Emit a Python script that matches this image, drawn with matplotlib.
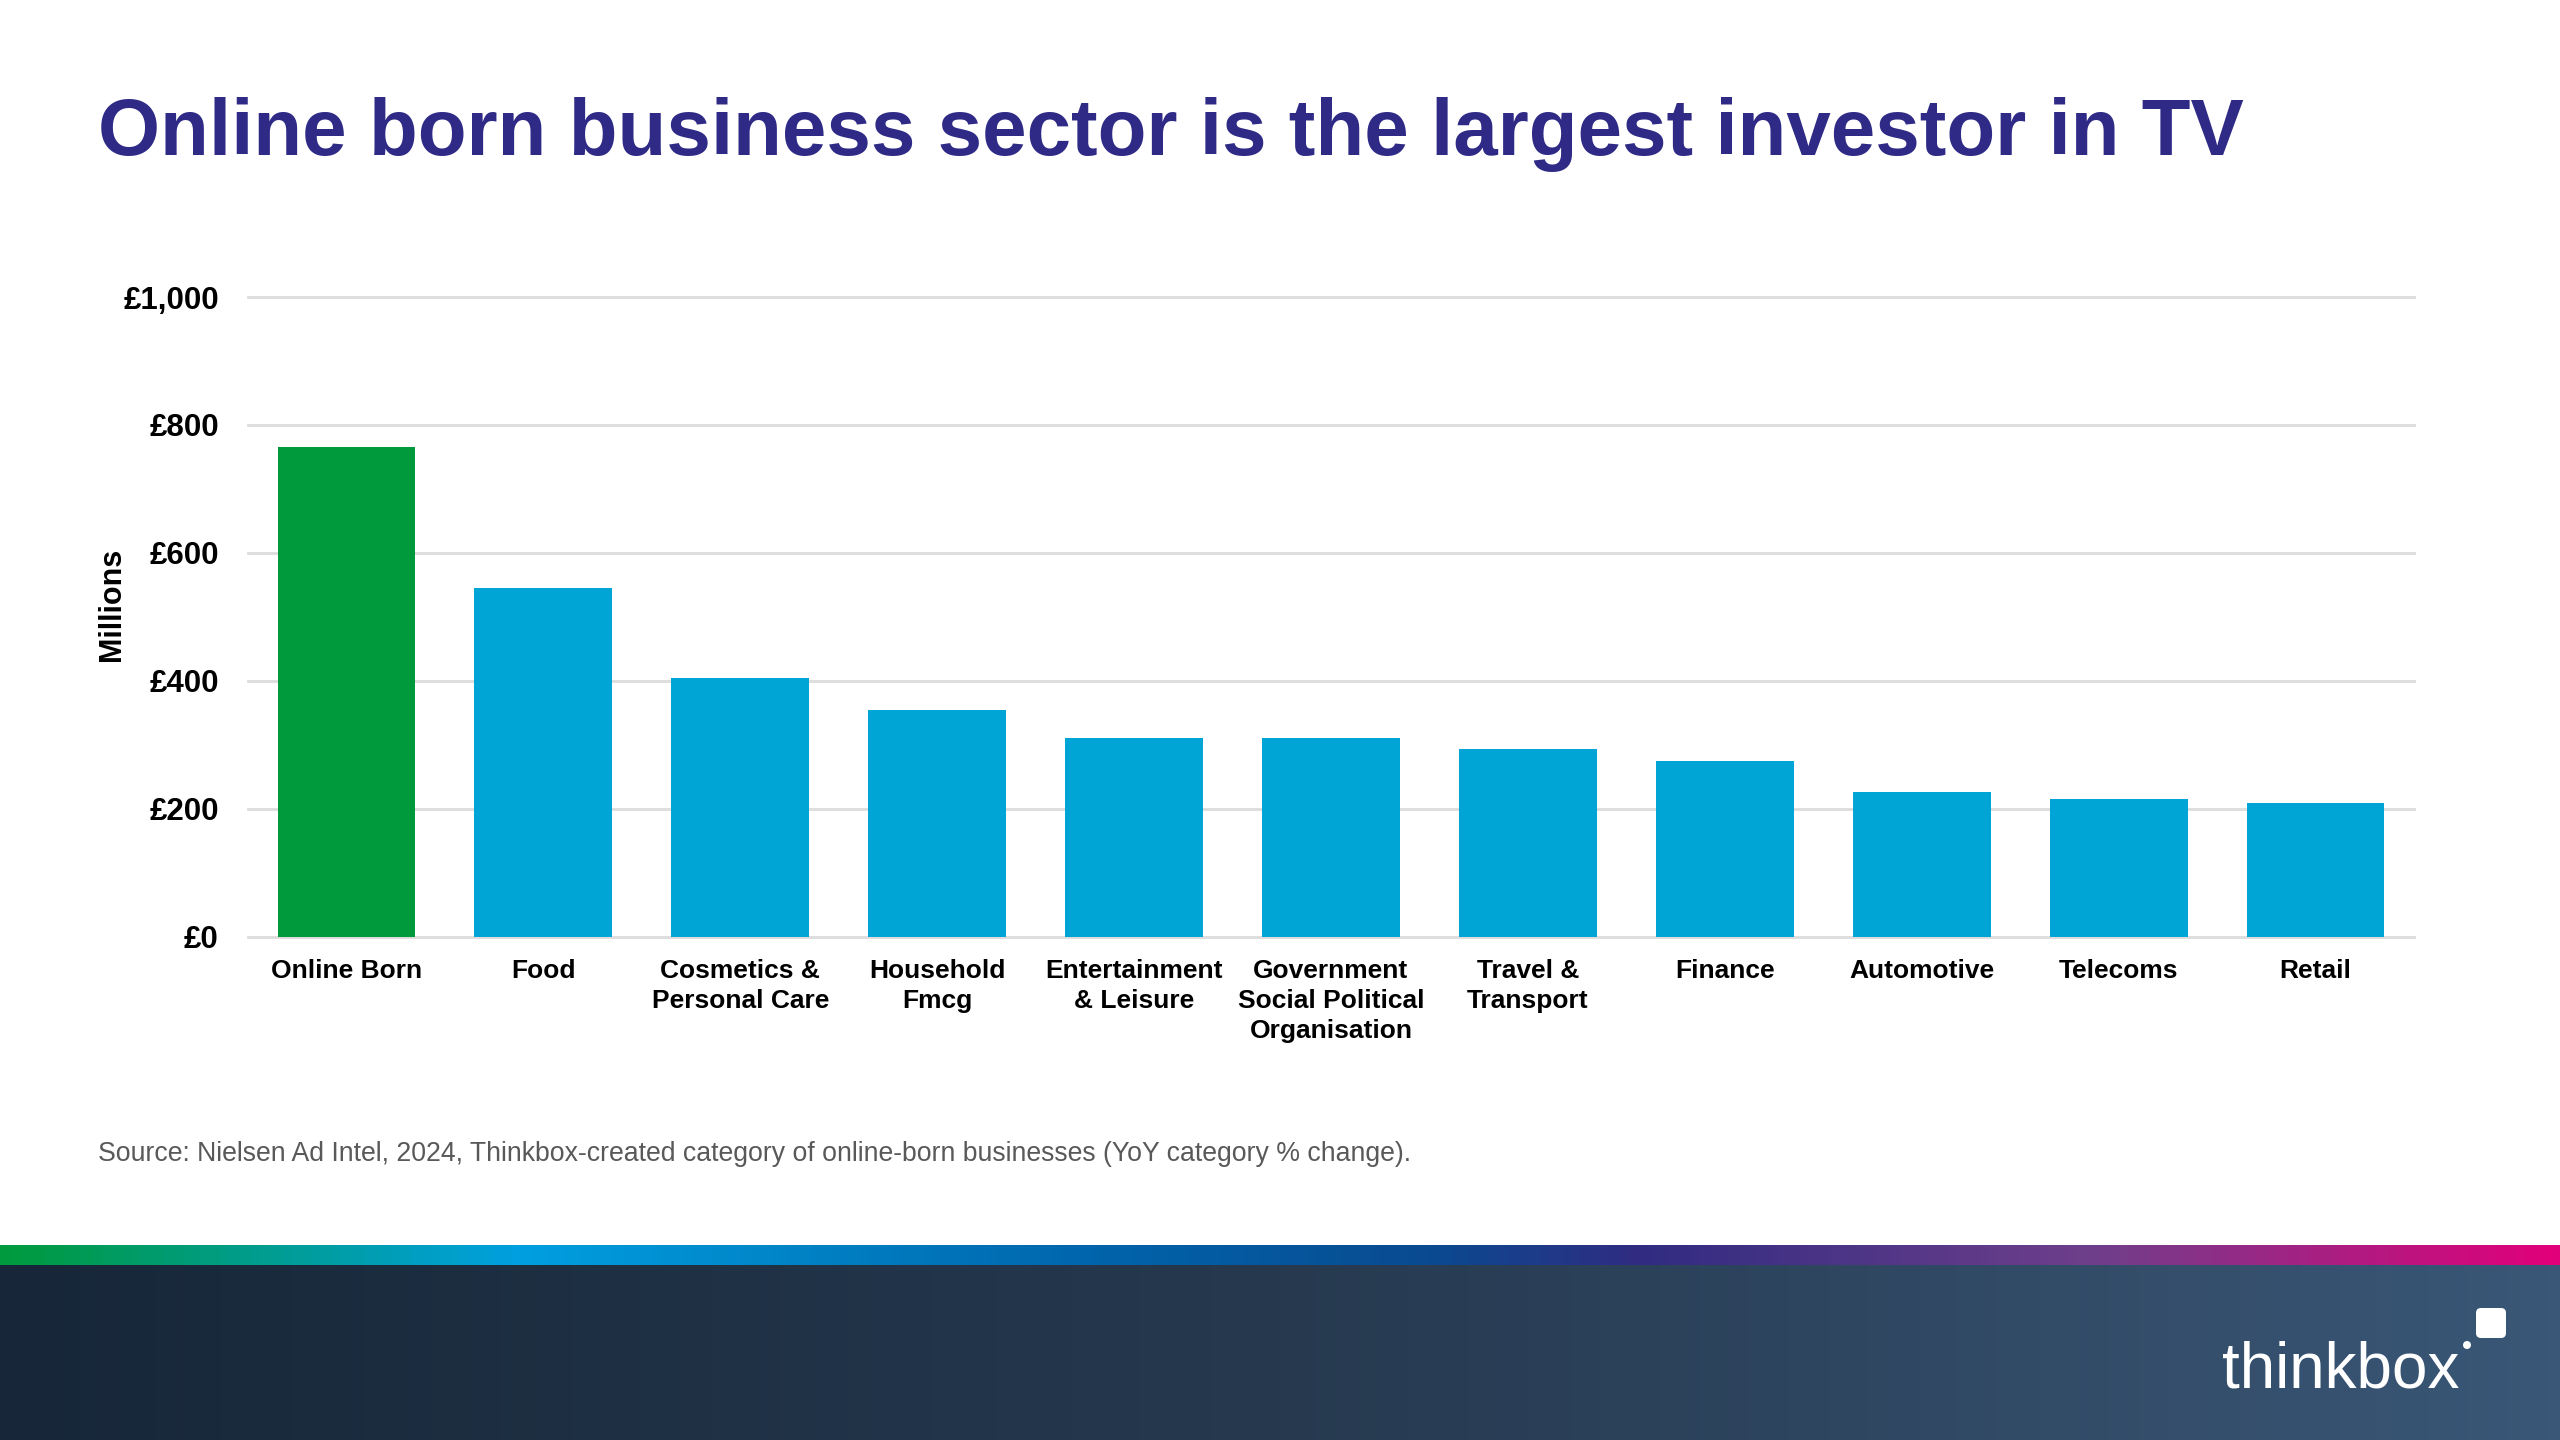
import matplotlib
matplotlib.use("Agg")
import matplotlib.pyplot as plt
import numpy as np
from matplotlib.colors import LinearSegmentedColormap
from matplotlib.patches import FancyBboxPatch, Circle

plt.rcParams["font.family"] = ["Liberation Sans", "DejaVu Sans"]

# --- Data (GBP millions) ---
categories = [
    "Online Born", "Food", "Cosmetics &\nPersonal Care", "Household\nFmcg",
    "Entertainment\n& Leisure", "Government\nSocial Political\nOrganisation",
    "Travel &\nTransport", "Finance", "Automotive", "Telecoms", "Retail",
]
spend = [765, 545, 404, 355, 311, 311, 294, 275, 227, 215, 209]
y_ticks = [0, 200, 400, 600, 800, 1000]

TITLE = "Online born business sector is the largest investor in TV"
SOURCE = ("Source: Nielsen Ad Intel, 2024, Thinkbox-created category of "
          "online-born businesses (YoY category % change).")

GREEN = "#009a3c"
BLUE = "#00a5d6"
PURPLE = "#2e2a86"

W, H = 2560, 1440
fig = plt.figure(figsize=(W / 100, H / 100), dpi=100)
fig.patch.set_facecolor("white")

# --- Background layer in pixel coordinates ---
bg = fig.add_axes([0, 0, 1, 1], zorder=-1)
bg.set_xlim(0, W)
bg.set_ylim(H, 0)
bg.axis("off")

strip_cmap = LinearSegmentedColormap.from_list("strip", [
    (0.00, "#009a3e"), (0.20, "#00a0e0"), (0.42, "#0066ad"),
    (0.56, "#0a4a90"), (0.64, "#302c82"), (0.82, "#6f3f8b"),
    (1.00, "#e2007a"),
])
grad = np.linspace(0, 1, 600).reshape(1, -1)
bg.imshow(grad, cmap=strip_cmap, aspect="auto", extent=(0, W, 1265, 1245))

navy_cmap = LinearSegmentedColormap.from_list("navy", ["#172739", "#26394f", "#3a5777"])
bg.imshow(grad, cmap=navy_cmap, aspect="auto", extent=(0, W, H, 1265))

# thinkbox logo
bg.text(2222, 1387, "thinkbox", color="white", fontsize=46, ha="left",
        va="baseline")
bg.add_patch(FancyBboxPatch((2476, 1308), 30, 30,
                            boxstyle="round,pad=0,rounding_size=5",
                            facecolor="white", edgecolor="none"))
bg.add_patch(Circle((2467, 1345), 4, facecolor="white", edgecolor="none"))

# --- Title and source ---
fig.text(98 / W, 1 - 155 / H, TITLE, color=PURPLE, fontsize=57.5,
         fontweight="bold", ha="left", va="baseline")
fig.text(98 / W, 1 - 1161 / H, SOURCE, color="#595959", fontsize=19.2,
         ha="left", va="baseline")

# --- Chart ---
ax = fig.add_axes([248 / W, 1 - 937 / H, (2414 - 248) / W, (937 - 297) / H])
x = np.arange(len(categories))
colors = [GREEN] + [BLUE] * (len(categories) - 1)
ax.bar(x, spend, width=0.7, color=colors, zorder=3)

ax.set_xlim(-0.5, len(categories) - 0.5)
ax.set_ylim(0, 1000)
ax.set_yticks(y_ticks)
ax.set_yticklabels([f"£{v:,.0f}" for v in y_ticks], fontsize=22.5,
                   fontweight="bold")
ax.set_xticks(x)
ax.set_xticklabels(categories, fontsize=19, fontweight="bold",
                   linespacing=1.32, va="top")
ax.tick_params(axis="both", length=0)
ax.tick_params(axis="y", pad=21)
ax.tick_params(axis="x", pad=16)

ax.yaxis.grid(True, color="#dcdcdc", linewidth=2, zorder=0)
ax.set_axisbelow(True)
for name, sp in ax.spines.items():
    sp.set_visible(False)
for ln in ax.get_ygridlines():
    ln.set_clip_on(False)

ax.set_ylabel("Millions", fontsize=22, fontweight="bold")
ax.yaxis.set_label_coords(-(248 - 127) / (2414 - 248), (937 - 604) / (937 - 297))

fig.savefig("out.png", dpi=100, facecolor=fig.get_facecolor())
